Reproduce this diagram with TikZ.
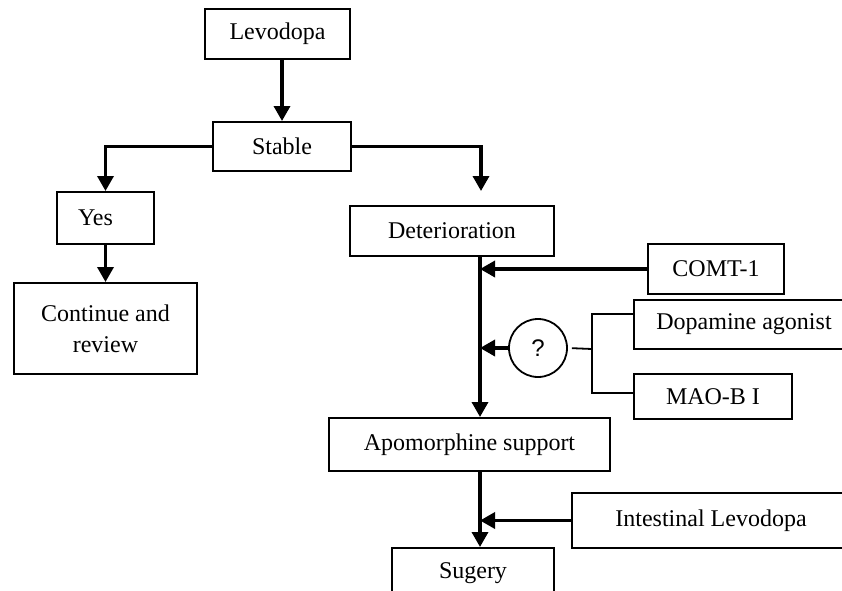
\documentclass[tikz,border=0pt]{standalone}
\usepackage{fontspec}
\setmainfont{Liberation Serif}
\newfontfamily\qfont{Liberation Sans}
\usepackage{tikz}
\usetikzlibrary{positioning,calc,arrows.meta}

\begin{document}
\begin{tikzpicture}[x=0.5pt, y=-0.5pt,
    font=\fontsize{12}{15.5}\selectfont,
    box/.style={draw, line width=1pt, rectangle, inner sep=2pt, align=center},
    arr/.style={line width=1.7pt, -{Triangle[width=8pt,length=7.5pt]}},
    thin/.style={line width=0.9pt}]

    \useasboundingbox (0,0) rectangle (842,590);
    \clip (0,0) rectangle (842,590);

    \node[box, minimum width=72.5pt, minimum height=25pt] (lev) at (277.5,34) {Levodopa};
    \node[box, minimum width=69pt, minimum height=24.5pt] (stab) at (282,146.5) {Stable};
    \node[box, minimum width=48.5pt, minimum height=26pt] (yes) at (105.5,218) {Yes\hspace*{10pt}};
    \node[box, minimum width=91.5pt, minimum height=45.5pt] (cont) at (105.5,328.5) {Continue and\\review};
    \node[box, minimum width=102pt, minimum height=25pt] (det) at (452,231) {Deterioration};
    \node[box, minimum width=68pt, minimum height=25pt] (comt) at (716,269) {COMT-1};
    \node[circle, draw, thin, minimum size=29pt, inner sep=0pt, font=\qfont\fontsize{12}{14}\selectfont] (q) at (538,348) {?};
    \node[box, minimum width=110pt, minimum height=24.5pt] (dop) at (744,324.5) {Dopamine agonist};
    \node[box, minimum width=79pt, minimum height=22.5pt] (mao) at (713,396.5) {MAO-B I};
    \node[box, minimum width=140.5pt, minimum height=26.5pt] (apo) at (469.5,444.5) {Apomorphine support};
    \node[box, minimum width=139pt, minimum height=27.5pt] (intl) at (711,520.5) {Intestinal Levodopa};
    \node[box, minimum width=81pt, minimum height=25pt] (sug) at (473,573) {Sugery};

    \coordinate (mainx) at (480,0);
    \coordinate (dt) at (481,191);
    \coordinate (br) at (592,349);
    \coordinate (b1) at (592,314);
    \coordinate (b2) at (592,393);

    % left branch
    \draw[arr] (lev.south -| stab.north) -- (stab.north);
    \draw[arr] (stab.west) -| (yes.north);
    \draw[arr] (yes.south) -- (cont.north);

    % right branch
    \draw[arr] (stab.east) -| (dt);
    \draw[arr] (det.south -| mainx) -- (apo.north -| mainx);
    \draw[arr] (comt.west) -- (comt.west -| mainx);
    \draw[arr] (q.west) -- (q.west -| mainx);
    \draw[thin, shorten <=2pt] (q.east) -- (br);
    \draw[thin] (dop.west |- b1) -- (b1) -- (b2) -- (mao.west |- b2);

    % bottom
    \draw[arr] (apo.south -| mainx) -- (sug.north -| mainx);
    \draw[arr] (intl.west) -- (intl.west -| mainx);
\end{tikzpicture}
\end{document}
